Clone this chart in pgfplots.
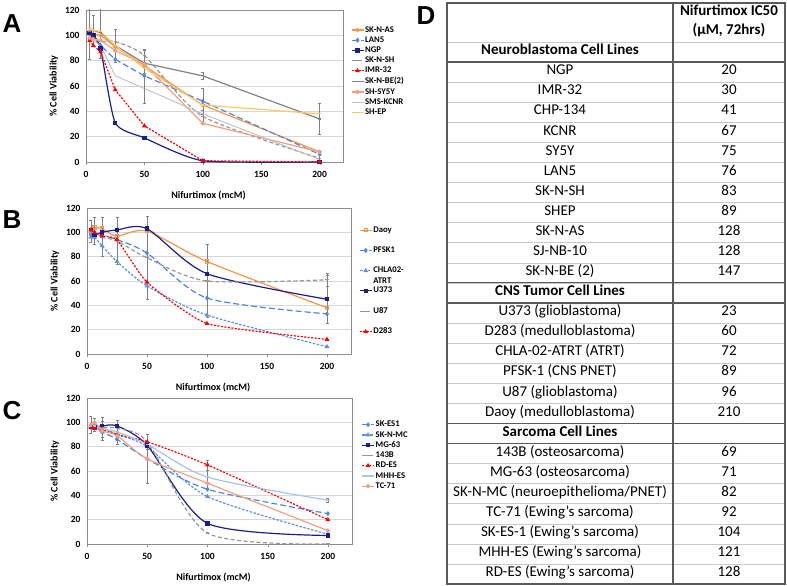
\documentclass[border=0pt]{standalone}
\usepackage{pgfplots}
\pgfplotsset{compat=1.18}
\usepackage{fontspec}
\setmainfont{Carlito}
\newfontfamily\arialfont{Liberation Sans}
\definecolor{cOr}{RGB}{247,150,70}
\definecolor{cBl}{RGB}{75,135,230}
\definecolor{cBl2}{RGB}{95,145,225}
\definecolor{cNv}{RGB}{28,30,140}
\definecolor{cGr}{RGB}{150,150,150}
\definecolor{cDg}{RGB}{130,130,130}
\definecolor{cRd}{RGB}{255,0,0}
\definecolor{cSal}{RGB}{242,160,130}
\definecolor{cLg}{RGB}{190,190,190}
\definecolor{cYl}{RGB}{255,200,100}
\definecolor{cLb}{RGB}{165,195,235}
\definecolor{cGrid}{RGB}{215,215,215}
\definecolor{cFrame}{RGB}{140,140,140}
\definecolor{cTab}{RGB}{90,90,90}
\definecolor{cTabL}{RGB}{200,200,200}
\pgfplotsset{
  panel/.style={
    scale only axis, xmin=0, xmax=220, ymin=0, ymax=120,
    xtick={0,50,100,150,200}, ytick={0,20,...,120},
    ymajorgrids, grid style={cGrid, line width=0.8pt},
    axis line style={cFrame, line width=0.8pt},
    xtick style={cFrame}, ytick style={draw=none},
    xtick pos=bottom, tick align=outside, major tick length=3pt,
    ticklabel style={font=\bfseries\fontsize{9.5}{10}\selectfont},
    xticklabel style={yshift=-3pt},
    /pgf/number format/assume math mode=true,
    xlabel={Nifurtimox (mcM)}, ylabel={\% Cell Viability},
    label style={font=\bfseries\fontsize{10}{12}\selectfont},
    xlabel style={yshift=-6pt, xshift=-6pt},
    legend cell align=left,
    legend style={draw=none, fill=none, font=\bfseries\fontsize{8.7}{9}\selectfont, anchor=north west, inner sep=0pt, nodes={inner sep=1pt}},
    legend image code/.code={\draw[mark repeat=2, mark phase=2] plot coordinates {(0pt,0pt)(6pt,0pt)(12pt,0pt)};},
    every axis plot/.append style={line width=1.2pt, mark size=1.6pt, mark options={solid}},
  },
  eb/.style={error bars/y dir=both, error bars/y explicit,
    error bars/error bar style={black!50, line width=0.5pt, solid},
    error bars/error mark options={rotate=90, mark size=1.5pt, black!50, line width=0.5pt, solid}},
}
\begin{document}
\begin{tikzpicture}
\useasboundingbox (0pt,0pt) rectangle (787pt,-586pt);
% ---------------- Panel A ----------------
\begin{axis}[panel, at={(86pt,-162pt)}, anchor=south west, width=257pt, height=152pt,
  legend style={at={(rel axis cs:1.03,0.9)}, row sep=1.0pt}]
\addplot[cOr, mark=o] coordinates {(3.125,103)(6.25,101)(12.5,100)(25,91)(50,76)(100,45)(200,8)};
\addlegendentry{SK-N-AS}
\addplot[cBl, dash pattern=on 6pt off 3pt, mark=diamond*, eb] coordinates {(3.125,101)(6.25,98)(12.5,92)(25,81)(50,68)(100,48)+-(0,10)(200,6)};
\addlegendentry{LAN5}
\addplot[cNv, smooth, tension=0.35, mark=square*] coordinates {(3.125,102)(6.25,100)(12.5,89.5)(25,31)(50,19)(100,1)(200,0)};
\addlegendentry{NGP}
\addplot[cGr, dash pattern=on 4pt off 2.5pt, smooth, tension=0.4, mark=-, eb] coordinates {(3.125,97)(6.25,97)(12.5,95)(25,95)(50,84)+-(0,5)(100,36)+-(0,5)(200,3)+-(0,5)};
\addlegendentry{SK-N-SH}
\addplot[cRd, dash pattern=on 2pt off 1.5pt, mark=triangle*] coordinates {(3.125,96)(6.25,92)(12.5,87)(25,57)(50,28.5)(100,1)(200,0)};
\addlegendentry{IMR-32}
\addplot[cDg, mark=-, eb] coordinates {(3.125,103)+-(0,22)(6.25,104)+-(0,12)(12.5,102)+-(0,20)(25,92)+-(0,13)(50,78)+-(0,10)(100,68)+-(0,3)(200,34)+-(0,12)};
\addlegendentry{SK-N-BE(2)}
\addplot[cSal, mark=*] coordinates {(3.125,98)(6.25,97)(12.5,96)(25,88)(50,77)(100,30.5)(200,8)+-(0,8)};
\addlegendentry{SH-SY5Y}
\addplot[cLg, line width=0.9pt, mark=none, eb] coordinates {(3.125,97)(6.25,96)(12.5,92)(25,68)(50,58)+-(0,12)(100,38)(200,2)};
\addlegendentry{SMS-KCNR}
\addplot[cYl, mark=-] coordinates {(3.125,106)(6.25,104)(12.5,103)(25,92)(50,74)(100,45)(200,38)};
\addlegendentry{SH-EP}
\end{axis}
% ---------------- Panel B ----------------
\begin{axis}[panel, at={(87pt,-354pt)}, anchor=south west, width=264pt, height=146pt,
  legend style={at={(rel axis cs:1.03,0.88)}, row sep=11pt}]
\addplot[cOr, smooth, tension=0.45, mark=square] coordinates {(3.125,100)(6.25,104)(12.5,103)(25,97)(50,101)(100,76)(200,38)};
\addlegendentry{Daoy}
\addplot[cBl, smooth, tension=0.45, dash pattern=on 6pt off 3pt, mark=diamond*] coordinates {(3.125,98)(6.25,97)(12.5,97)(25,94)(50,83)(100,46)(200,33)};
\addlegendentry{PFSK1}
\addplot[cBl2, smooth, tension=0.45, dash pattern=on 2.5pt off 1.5pt, mark=triangle] coordinates {(3.125,96)(6.25,96)(12.5,89)(25,76)(50,56)(100,32)(200,6)};
\addlegendentry{\smash{\makebox[0pt][l]{\raisebox{-10.5pt}{ATRT}}}CHLA02-}
\addplot[cNv, smooth, tension=0.45, mark=square*, eb] coordinates {(3.125,102)(6.25,98)(12.5,100)(25,102)(50,103)(100,66)(200,45)+-(0,20)};
\addlegendentry{U373}
\addplot[cGr, smooth, tension=0.45, dash pattern=on 4pt off 2.5pt, mark=-, eb] coordinates {(3.125,101)+-(0,9)(6.25,101)+-(0,11)(12.5,96)+-(0,16)(25,93)+-(0,19)(50,79)+-(0,34)(100,60)+-(0,30)(200,61)+-(0,5)};
\addlegendentry{U87}
\addplot[cRd, smooth, tension=0.3, dash pattern=on 2pt off 1.5pt, mark=triangle*] coordinates {(3.125,102)(6.25,100)(12.5,97)(25,94)(50,59)+-(0,7)(100,25)(200,12)};
\addlegendentry{D283}
\end{axis}
% ---------------- Panel C ----------------
\begin{axis}[panel, at={(87pt,-544pt)}, anchor=south west, width=265pt, height=146pt,
  legend style={at={(rel axis cs:1.035,0.85)}, row sep=1.0pt}]
\addplot[cBl, smooth, tension=0.45, dash pattern=on 6pt off 3pt, mark=diamond*] coordinates {(3.125,96)(6.25,95)(12.5,92)(25,86)(50,70)(100,45)(200,25)};
\addlegendentry{SK-ES1}
\addplot[cBl2, smooth, tension=0.45, dash pattern=on 2.5pt off 1.5pt, mark=triangle] coordinates {(3.125,97)(6.25,97)(12.5,96)(25,90)(50,80)(100,39)(200,8)};
\addlegendentry{SK-N-MC}
\addplot[cNv, smooth, tension=0.45, mark=square*] coordinates {(3.125,96)(6.25,96)(12.5,97)(25,97)(50,81)(100,17)(200,7)};
\addlegendentry{MG-63}
\addplot[cGr, smooth, tension=0.45, dash pattern=on 4pt off 2.5pt, mark=-, eb] coordinates {(3.125,98)+-(0,7)(6.25,98)+-(0,5)(12.5,96)+-(0,8)(25,95)+-(0,7)(50,84)+-(0,6)(100,9)(200,0)};
\addlegendentry{143B}
\addplot[cRd, smooth, tension=0.45, dash pattern=on 2pt off 1.5pt, mark=triangle*, eb] coordinates {(3.125,96)(6.25,95)(12.5,94)(25,90)(50,84)(100,65)+-(0,4)(200,20)};
\addlegendentry{RD-ES}
\addplot[cLb, smooth, tension=0.45, mark=-, eb] coordinates {(3.125,97)(6.25,97)(12.5,95)(25,92)(50,82)(100,55)+-(0,10)(200,36)+-(0,2)};
\addlegendentry{MHH-ES}
\addplot[cSal, smooth, tension=0.45, mark=*, eb] coordinates {(3.125,98)(6.25,100)(12.5,93)+-(0,8)(25,89)+-(0,7)(50,70)+-(0,20)(100,50)(200,11)};
\addlegendentry{TC-71}
\end{axis}
% ---------------- Panel letters ----------------
\node[font=\arialfont\bfseries\fontsize{26}{26}\selectfont] at (12pt,-24pt) {A};
\node[font=\arialfont\bfseries\fontsize{26}{26}\selectfont] at (12pt,-220pt) {B};
\node[font=\arialfont\bfseries\fontsize{26}{26}\selectfont] at (12pt,-411pt) {C};
\node[font=\arialfont\bfseries\fontsize{26}{26}\selectfont] at (426pt,-16pt) {D};
% ---------------- Table D ----------------
\foreach \k in {1,...,25} {
  \draw[cTabL, line width=0.6pt] (447pt,{-(62+\k*20.08)*1pt}) -- (785pt,{-(62+\k*20.08)*1pt});
}
\draw[cTabL, line width=0.8pt] (447pt,-42pt) -- (785pt,-42pt);
\foreach \k in {0,11,12,18,19} {
  \draw[cTab, line width=1.1pt] (447pt,{-(62+\k*20.08)*1pt}) -- (785pt,{-(62+\k*20.08)*1pt});
}
\draw[cTab, line width=1.1pt] (447pt,-3pt) rectangle (785pt,-584pt);
\draw[cTab, line width=1.1pt] (673pt,-3pt) -- (673pt,-584pt);
\begin{scope}[every node/.style={font=\fontsize{15}{16}\selectfont, text height=1.45ex, text depth=0.3ex, inner sep=0pt}]
\node[font=\bfseries\fontsize{15}{16}\selectfont] at (729pt,-13pt) {Nifurtimox IC50};
\node[font=\bfseries\fontsize{15}{16}\selectfont] at (729pt,-32pt) {(μM, 72hrs)};
\node[font=\bfseries\fontsize{15}{16}\selectfont] at (560pt,-52pt) {Neuroblastoma Cell Lines};
\foreach \nm/\vl [count=\i] in {NGP/20, IMR-32/30, CHP-134/41, KCNR/67, SY5Y/75, LAN5/76, SK-N-SH/83, SHEP/89, SK-N-AS/128, SJ-NB-10/128, SK-N-BE (2)/147,
  {\textbf{CNS Tumor Cell Lines}}/{}, U373 (glioblastoma)/23, D283 (medulloblastoma)/60, CHLA-02-ATRT (ATRT)/72, PFSK-1 (CNS PNET)/89, U87 (glioblastoma)/96, Daoy (medulloblastoma)/210,
  {\textbf{Sarcoma Cell Lines}}/{}, 143B (osteosarcoma)/69, MG-63 (osteosarcoma)/71, {SK-N-MC (neuroepithelioma/PNET)}/82, TC-71 (Ewing's sarcoma)/92, SK-ES-1 (Ewing's sarcoma)/104, MHH-ES (Ewing's sarcoma)/121, RD-ES (Ewing's sarcoma)/128} {
  \node at (560pt,{-(62+(\i-0.5)*20.08)*1pt}) {\nm};
  \node at (729pt,{-(62+(\i-0.5)*20.08)*1pt}) {\vl};
}
\end{scope}
\end{tikzpicture}
\end{document}
